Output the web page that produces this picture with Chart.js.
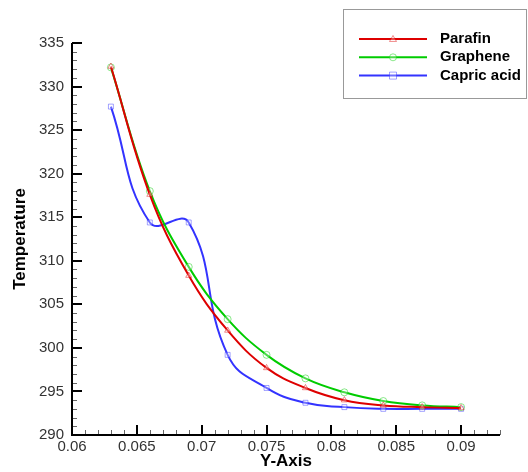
<!DOCTYPE html>
<html><head><meta charset="utf-8">
<script src="https://cdn.jsdelivr.net/npm/chart.js@4.4.1/dist/chart.umd.min.js"></script>
<style>html,body{margin:0;padding:0;background:#fff}canvas{display:block}</style>
</head><body>
<canvas id="c" width="528" height="472"></canvas>
<script>
const xValues = [0.063, 0.066, 0.069, 0.072, 0.075, 0.078, 0.081, 0.084, 0.087, 0.090];
const parafin = [332.3, 317.6, 308.3, 302.0, 297.7, 295.4, 294.0, 293.4, 293.2, 293.1];
const graphene = [332.2, 318.0, 309.3, 303.3, 299.2, 296.5, 294.9, 293.9, 293.4, 293.2];
const capricAcid = [327.7, 314.4, 314.4, 299.2, 295.4, 293.7, 293.2, 293.0, 293.0, 293.0];
const seriesNames = ['Parafin', 'Graphene', 'Capric acid'];
const xTickLabels = [0.06, 0.065, 0.07, 0.075, 0.08, 0.085, 0.09];
const yTickLabels = [290, 295, 300, 305, 310, 315, 320, 325, 330, 335];

const lineColors = ['rgb(222,0,0)', 'rgb(0,204,0)', 'rgb(51,51,255)'];
const markColors = ['rgba(222,0,0,0.45)', 'rgba(0,204,0,0.45)', 'rgba(51,51,255,0.45)'];
const pointStyles = ['triangle', 'circle', 'rect'];
const tensions = [0.4, 0.4, 0.45];
const seriesValues = [parafin, graphene, capricAcid];

const tickFont = {family: 'Liberation Sans, Arial, sans-serif', size: 15};
const titleFont = {family: 'Liberation Sans, Arial, sans-serif', size: 17, weight: 'bold'};

const axesPlugin = {
  id: 'axes',
  afterDraw(chart) {
    const ctx = chart.ctx, xs = chart.scales.x, ys = chart.scales.y;
    const ca = chart.chartArea;
    ctx.save();
    for (let i = 0; i <= 33; i++) {
      const v = 0.06 + i * 0.001;
      const px = Math.round(xs.getPixelForValue(v));
      const major = i % 5 === 0;
      ctx.strokeStyle = major ? '#000' : '#666';
      ctx.lineWidth = major ? 2 : 1;
      ctx.beginPath();
      ctx.moveTo(px + (major ? 0 : 0.5), ca.bottom);
      ctx.lineTo(px + (major ? 0 : 0.5), ca.bottom - (major ? 10 : 5));
      ctx.stroke();
    }
    for (let i = 0; i <= 45; i++) {
      const v = 290 + i;
      const py = Math.round(ys.getPixelForValue(v));
      const major = i % 5 === 0;
      ctx.strokeStyle = major ? '#000' : '#666';
      ctx.lineWidth = major ? 2 : 1;
      ctx.beginPath();
      ctx.moveTo(ca.left, py + (major ? 0 : 0.5));
      ctx.lineTo(ca.left + (major ? 10 : 5), py + (major ? 0 : 0.5));
      ctx.stroke();
    }
    ctx.strokeStyle = '#000';
    ctx.lineWidth = 2;
    ctx.beginPath();
    ctx.moveTo(ca.left, ca.top);
    ctx.lineTo(ca.left, ca.bottom);
    ctx.lineTo(ca.right, ca.bottom);
    ctx.stroke();

    const bx = 343, by = 9, bw = 183, bh = 89;
    ctx.fillStyle = '#fff';
    ctx.fillRect(bx, by, bw, bh);
    ctx.strokeStyle = '#999';
    ctx.lineWidth = 1;
    ctx.strokeRect(bx + 0.5, by + 0.5, bw, bh);
    chart.data.datasets.forEach((ds, i) => {
      const y = 39 + i * 18.3;
      ctx.strokeStyle = ds.borderColor;
      ctx.lineWidth = 2;
      ctx.beginPath();
      ctx.moveTo(359, y);
      ctx.lineTo(427, y);
      ctx.stroke();
      ctx.strokeStyle = ds.pointBorderColor;
      ctx.fillStyle = ds.pointBackgroundColor;
      ctx.lineWidth = 1;
      ctx.beginPath();
      const mx = 393, r = 3.5;
      if (ds.pointStyle === 'triangle') {
        ctx.moveTo(mx, y - r); ctx.lineTo(mx + r, y + r * 0.7); ctx.lineTo(mx - r, y + r * 0.7); ctx.closePath();
      } else if (ds.pointStyle === 'circle') {
        ctx.arc(mx, y, r, 0, Math.PI * 2);
      } else {
        ctx.rect(mx - r, y - r, 2 * r, 2 * r);
      }
      ctx.fill(); ctx.stroke();
      ctx.fillStyle = '#000';
      ctx.font = 'bold 15px Liberation Sans, Arial, sans-serif';
      ctx.textBaseline = 'middle';
      ctx.textAlign = 'left';
      ctx.fillText(ds.label, 440, y);
    });
    ctx.restore();
  }
};

new Chart(document.getElementById('c'), {
  type: 'line',
  data: {
    datasets: seriesValues.map((arr, i) => ({
      label: seriesNames[i],
      data: xValues.map((x, j) => ({x: x, y: arr[j]})),
      borderColor: lineColors[i],
      borderWidth: 2,
      tension: tensions[i],
      pointStyle: pointStyles[i],
      pointRadius: 3.5,
      pointBorderWidth: 1,
      pointBorderColor: markColors[i],
      pointBackgroundColor: 'rgba(255,255,255,0.3)',
      fill: false
    }))
  },
  options: {
    responsive: false,
    animation: false,
    devicePixelRatio: 1,
    layout: {padding: {top: 43, right: 28, left: 0, bottom: 0}},
    plugins: {legend: {display: false}, tooltip: {enabled: false}},
    scales: {
      x: {
        type: 'linear', min: 0.06, max: 0.093,
        afterBuildTicks: s => { s.ticks = xTickLabels.map(v => ({value: v})); },
        afterFit: s => { s.height = 37; },
        ticks: {callback: v => String(v), font: tickFont, color: '#333', padding: 3, maxRotation: 0, autoSkip: false},
        grid: {display: false, drawTicks: false},
        border: {display: false},
        title: {display: true, text: 'Y-Axis', font: titleFont, color: '#000', padding: {top: 0, bottom: 0}}
      },
      y: {
        type: 'linear', min: 290, max: 335,
        afterBuildTicks: s => { s.ticks = yTickLabels.map(v => ({value: v})); },
        afterFit: s => { s.width = 72; },
        ticks: {callback: v => String(v), font: tickFont, color: '#333', padding: 8, autoSkip: false},
        grid: {display: false, drawTicks: false},
        border: {display: false},
        title: {display: true, text: 'Temperature', font: titleFont, color: '#000', padding: {top: 10, bottom: 0}}
      }
    }
  },
  plugins: [axesPlugin]
});
</script>
</body></html>
